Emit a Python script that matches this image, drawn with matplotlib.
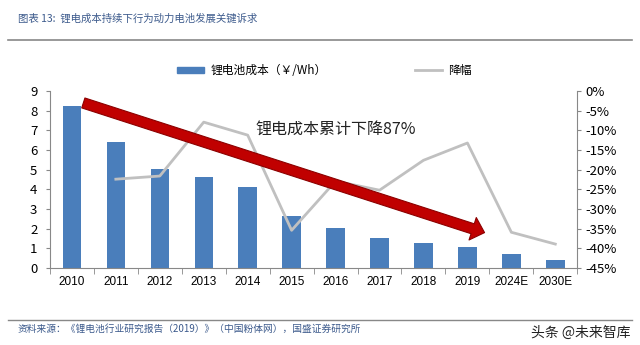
import numpy as np
import matplotlib.pyplot as plt
from matplotlib.patches import Patch
from matplotlib.lines import Line2D

plt.rcParams['font.family'] = ['Noto Sans CJK SC', 'DejaVu Sans']

years = ['2010', '2011', '2012', '2013', '2014', '2015', '2016', '2017', '2018', '2019', '2024E', '2030E']
cost = [8.25, 6.4, 5.05, 4.65, 4.1, 2.65, 2.03, 1.52, 1.27, 1.07, 0.71, 0.41]
drop_years = years[1:]
drop = [-22.4, -21.6, -7.9, -11.2, -35.4, -22.9, -25.2, -17.6, -13.2, -35.9, -38.9]

blue = '#4a7ebb'
gray = '#c0c0c0'
spine = '#888888'

fig = plt.figure(figsize=(6.4, 3.45), dpi=100)
ax = fig.add_axes([0.078, 0.223, 0.824, 0.513])
x = np.arange(len(years))
ax.bar(x, cost, width=0.42, color=blue, zorder=2)
ax.set_xlim(-0.5, len(years) - 0.5)
ax.set_ylim(0, 9)
ax.set_yticks(range(10))
ax.set_xticks(x)
ax.set_xticklabels(years, fontsize=8.5, family=['Liberation Sans', 'DejaVu Sans'])
ax.set_xticks(np.arange(-0.5, len(years)), minor=True)
ax.tick_params(axis='x', which='major', length=0, pad=6)
ax.tick_params(axis='x', which='minor', length=4, color=spine)
ax.tick_params(axis='y', labelsize=9.5, length=3, color=spine, pad=6)
for s in ['top', 'right']:
    ax.spines[s].set_visible(False)
for s in ['left', 'bottom']:
    ax.spines[s].set_color(spine)

ax2 = ax.twinx()
xi = [years.index(y) for y in drop_years]
ax2.plot(xi, drop, color=gray, lw=2, zorder=3)
ax2.set_ylim(-45, 0)
ax2.set_yticks(np.arange(-45, 1, 5))
ax2.set_yticklabels([f'{v}%' for v in range(-45, 1, 5)])
ax2.tick_params(axis='y', labelsize=9.5, length=3, color=spine, pad=3)
for s in ['top', 'left', 'bottom']:
    ax2.spines[s].set_visible(False)
ax2.spines['right'].set_color(spine)

# red trend arrow
ax2.annotate('', xy=(9.45, -36.2), xytext=(0.2, -2.8),
             arrowprops=dict(arrowstyle='simple,head_width=1.7,head_length=0.9,tail_width=0.75',
                             fc='#c00000', ec='#8b0000', lw=0.8, mutation_scale=10), zorder=5)
ax2.text(6.0, -9.6, '锂电成本累计下降87%', fontsize=11.5, ha='center', va='center', color='#222222')

# legend
handles = [Patch(color=blue), Line2D([0], [0], color=gray, lw=2)]
fig.legend(handles, ['锂电池成本（￥/Wh）', '降幅'], loc='center', bbox_to_anchor=(0.507, 0.795),
           ncol=2, frameon=False, fontsize=8.5, columnspacing=7.5, handlelength=2.3,
           handleheight=0.5, handletextpad=0.5)

# title and footer
fig.text(0.028, 0.947, '图表 13:  锂电成本持续下行为动力电池发展关键诉求', fontsize=7.5, color='#3c5a8c',
         style='italic', va='center')
fig.add_artist(Line2D([0.012, 0.988], [0.884, 0.884], color='#888888', lw=1.2))
fig.add_artist(Line2D([0.012, 0.988], [0.072, 0.072], color='#888888', lw=1))
fig.text(0.028, 0.048, '资料来源：《锂电池行业研究报告（2019）》（中国粉体网），国盛证券研究所', fontsize=7,
         color='#3c5a8c', style='italic', va='center')
fig.text(0.985, 0.035, '头条 @未来智库', fontsize=10, color='#222222', ha='right', va='center')

fig.savefig('out.png', dpi=100)
